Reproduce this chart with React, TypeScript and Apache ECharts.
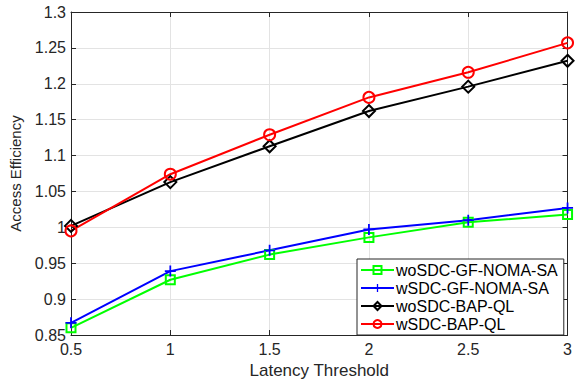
import React, { useEffect, useRef } from "react";
import * as echarts from "echarts";

const xValues = [0.5, 1, 1.5, 2, 2.5, 3];
const seriesNames = ["woSDC-GF-NOMA-SA", "wSDC-GF-NOMA-SA", "woSDC-BAP-QL", "wSDC-BAP-QL"];
const greenValues = [0.86, 0.927, 0.962, 0.986, 1.007, 1.018];
const blueValues = [0.867, 0.939, 0.968, 0.997, 1.01, 1.027];
const blackValues = [1.002, 1.063, 1.113, 1.162, 1.196, 1.232];
const redValues = [0.995, 1.074, 1.129, 1.181, 1.216, 1.257];
const xLabel = "Latency Threshold";
const yLabel = "Access Efficiency";

const textColor = "#262626";
const font = "Liberation Sans, Arial, Helvetica, sans-serif";
const plusPath = "path://M4.2,0H5.8V4.2H10V5.8H5.8V10H4.2V5.8H0V4.2H4.2Z";

export default function App() {
  const ref = useRef<HTMLDivElement>(null);
  useEffect(() => {
    if (!ref.current) return;
    const chart = echarts.init(ref.current, undefined, { renderer: "svg" });
    const mk = (name: string, vals: number[], color: string, symbol: string, size: number, filled = false) => ({
      name,
      type: "line",
      data: xValues.map((x, i) => [x, vals[i]]),
      symbol,
      symbolSize: size,
      showAllSymbol: true,
      lineStyle: { color, width: 2 },
      itemStyle: filled
        ? { color, borderColor: color, borderWidth: 0 }
        : { color: "rgba(255,255,255,0)", borderColor: color, borderWidth: 2 },
      emphasis: { disabled: true },
      z: 3,
    });
    const fmt = (v: number) => String(parseFloat(v.toFixed(2)));
    chart.setOption({
      animation: false,
      textStyle: { fontFamily: font },
      grid: { left: 65, right: 5, top: 12, bottom: 46, containLabel: false },
      xAxis: [
        {
          type: "value",
          min: 0.5,
          max: 3,
          interval: 0.5,
          name: xLabel,
          nameLocation: "middle",
          nameGap: 27,
          nameTextStyle: { color: textColor, fontSize: 17, fontFamily: font },
          axisLine: { show: true, lineStyle: { color: textColor, width: 1 } },
          axisTick: { show: true, inside: true, length: 5, lineStyle: { color: textColor } },
          axisLabel: { color: textColor, fontSize: 16, fontFamily: font, margin: 6, formatter: fmt },
          splitLine: { show: true, lineStyle: { color: "#e3e3e3", width: 1 } },
        },
        {
          type: "value",
          position: "top",
          min: 0.5,
          max: 3,
          interval: 0.5,
          axisLine: { show: true, lineStyle: { color: textColor, width: 1 } },
          axisTick: { show: true, inside: true, length: 5, lineStyle: { color: textColor } },
          axisLabel: { show: false },
          splitLine: { show: false },
        },
      ],
      yAxis: [
        {
          type: "value",
          min: 0.85,
          max: 1.3,
          interval: 0.05,
          name: yLabel,
          nameLocation: "middle",
          nameGap: 48,
          nameTextStyle: { color: textColor, fontSize: 15, fontFamily: font },
          axisLine: { show: true, lineStyle: { color: textColor, width: 1 } },
          axisTick: { show: true, inside: true, length: 5, lineStyle: { color: textColor } },
          axisLabel: { color: textColor, fontSize: 16, fontFamily: font, margin: 5, formatter: fmt },
          splitLine: { show: true, lineStyle: { color: "#e3e3e3", width: 1 } },
        },
        {
          type: "value",
          position: "right",
          min: 0.85,
          max: 1.3,
          interval: 0.05,
          axisLine: { show: true, lineStyle: { color: textColor, width: 1 } },
          axisTick: { show: true, inside: true, length: 5, lineStyle: { color: textColor } },
          axisLabel: { show: false },
          splitLine: { show: false },
        },
      ],
      legend: {
        data: seriesNames,
        orient: "vertical",
        left: 357,
        top: 259,
        padding: [3, 6, 3, 3],
        itemGap: 2,
        itemWidth: 33,
        itemHeight: 10,
        backgroundColor: "#ffffff",
        borderColor: textColor,
        borderWidth: 1,
        borderRadius: 0,
        textStyle: { color: "#000", fontSize: 16, fontFamily: font, padding: [0, 0, 0, -3], lineHeight: 15 },
        selectedMode: false,
        z: 10,
      },
      series: [
        mk(seriesNames[0], greenValues, "#00ff00", "rect", 9),
        mk(seriesNames[1], blueValues, "#0000ff", plusPath, 11, true),
        mk(seriesNames[2], blackValues, "#000000", "diamond", 12),
        mk(seriesNames[3], redValues, "#ff0000", "circle", 11),
      ],
    });
    return () => chart.dispose();
  }, []);
  return <div ref={ref} style={{ width: 575, height: 384, position: "absolute", left: 0, top: 0, background: "#fff" }} />;
}
